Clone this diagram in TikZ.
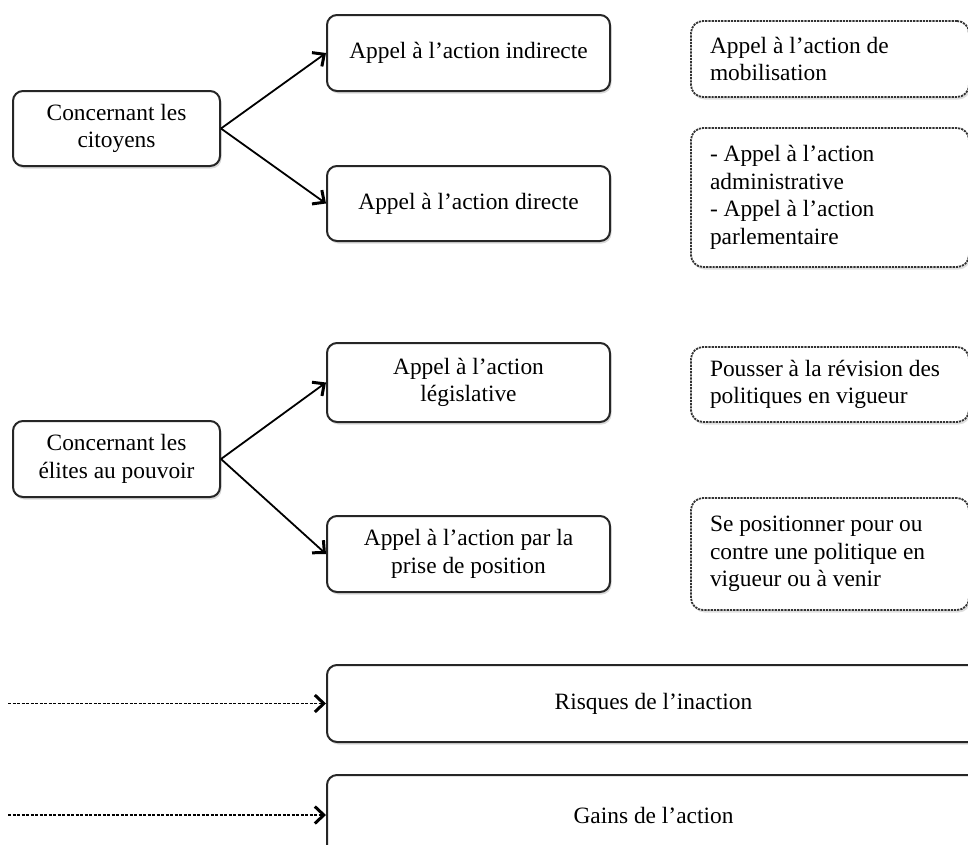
\documentclass[tikz,border=0pt]{standalone}
\usepackage{fontspec}
\setmainfont{Liberation Serif}
\usetikzlibrary{arrows.meta,shadows}
\begin{document}
\begin{tikzpicture}[x=1pt,y=-1pt,
  font=\fontsize{23.4}{27.5}\selectfont,
  box/.style={draw=black!85, line width=2pt, rounded corners=10pt, fill=white,
    align=center, inner sep=0pt,
    drop shadow={shadow xshift=1.5pt,shadow yshift=-2.5pt,opacity=0.3}},
  dbox/.style={draw=black!80, line width=1.8pt, dash pattern=on 2.2pt off 1pt,
    rounded corners=12pt, fill=white, align=flush left, inner xsep=19pt, inner ysep=0pt,
    text width=240pt,
    drop shadow={shadow xshift=1.5pt,shadow yshift=-2.5pt,opacity=0.25}},
  arr/.style={line width=1.8pt, -{Straight Barb[length=9pt,width=17pt,line width=3pt]}},
  darr/.style={arr, dash pattern=on 3pt off 1.5pt}
]
\useasboundingbox (0,0) rectangle (968,844);
\clip (0,0) rectangle (968,844);

% left boxes
\node[box, minimum width=207pt, minimum height=75pt] (c1) at (116.5,128.5) {Concernant les\\citoyens};
\node[box, minimum width=207pt, minimum height=76pt] (c2) at (116.5,459) {Concernant les\\élites au pouvoir};

% middle boxes
\node[box, minimum width=283pt, minimum height=76pt] (a1) at (468.5,53) {Appel à l’action indirecte};
\node[box, minimum width=283pt, minimum height=75pt] (a2) at (468.5,203.5) {Appel à l’action directe};
\node[box, minimum width=283pt, minimum height=79pt] (a3) at (468.5,382.5) {Appel à l’action\\législative};
\node[box, minimum width=283pt, minimum height=76pt] (a4) at (468.5,554) {Appel à l’action par la\\prise de position};

% dashed boxes
\node[dbox, minimum height=76pt] (d1) at (830,59) {Appel à l’action de\\mobilisation};
\node[dbox, minimum height=139pt] (d2) at (830,197.5) {- Appel à l’action\\administrative\\- Appel à l’action\\parlementaire};
\node[dbox, minimum height=75pt] (d3) at (830,384.5) {Pousser à la révision des\\politiques en vigueur};
\node[dbox, minimum height=112pt] (d4) at (830,554) {Se positionner pour ou\\contre une politique en\\vigueur ou à venir};

% bottom boxes
\node[box, minimum width=653pt, minimum height=77pt] (r) at (653.5,703.5) {Risques de l’inaction};
\node[box, minimum width=653pt, minimum height=80pt] (g) at (653.5,815) {Gains de l’action};

% connectors
\draw[arr] (c1.east) -- (a1.west);
\draw[arr] (c1.east) -- (a2.west);
\draw[arr] (c2.east) -- (a3.west);
\draw[arr] (c2.east) -- (a4.west);

\coordinate (s1) at (8,703.5);
\coordinate (s2) at (8,815);
\draw[darr] (s1) -- (r.west);
\draw[darr] (s2) -- (g.west);
\end{tikzpicture}
\end{document}
